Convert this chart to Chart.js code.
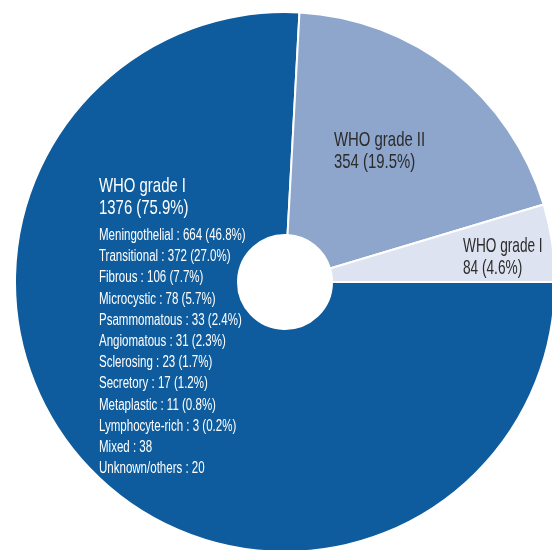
<!DOCTYPE html>
<html>
<head>
<meta charset="utf-8">
<script src="https://cdn.jsdelivr.net/npm/chart.js@4.4.1/dist/chart.umd.min.js"></script>
<style>
  html, body { margin: 0; padding: 0; background: #fff; overflow: hidden; width: 552px; height: 550px; }
  #wrap { position: absolute; left: 14px; top: 11px; width: 542px; height: 542px; }
</style>
</head>
<body>
<div id="wrap"><canvas id="gradePie"></canvas></div>
<script>
// WHO grade slices (the third label is cut off in the source figure)
const grades = ['WHO grade I', 'WHO grade II', 'WHO grade I'];
const cases = [1376, 354, 84];
const shares = ['75.9%', '19.5%', '4.6%'];

// grade I subtypes listed inside the big slice
const subtypes = ['Meningothelial', 'Transitional', 'Fibrous', 'Microcystic', 'Psammomatous',
  'Angiomatous', 'Sclerosing', 'Secretory', 'Metaplastic', 'Lymphocyte-rich', 'Mixed', 'Unknown/others'];
const subtypeCounts = [664, 372, 106, 78, 33, 31, 23, 17, 11, 3, 38, 20];
const subtypeShares = ['46.8%', '27.0%', '7.7%', '5.7%', '2.4%', '2.3%', '1.7%', '1.2%', '0.8%', '0.2%', null, null];

const colors = ['#0e5c9d', '#8ea5cc', '#dde3f0'];
const textColors = ['#ffffff', '#2b2b2b', '#2b2b2b'];
const FONT = '"Liberation Sans", Arial, sans-serif';

function condensedText(ctx, str, x, y, size, squeeze) {
  ctx.save();
  ctx.font = size + 'px ' + FONT;
  ctx.translate(x, y);
  ctx.scale(squeeze, 1);
  ctx.fillText(str, 0, 0);
  ctx.restore();
}

// label spots relative to the pie centre
const labelOffsets = [[-186, -90], [49, -136], [178, -30]];

const sliceLabels = {
  id: 'sliceLabels',
  beforeDatasetsDraw(chart) {
    // faint shadow around the hole
    const arc = chart.getDatasetMeta(0).data[0];
    const ctx = chart.ctx;
    ctx.save();
    ctx.beginPath();
    ctx.arc(arc.x, arc.y, arc.innerRadius + 1, 0, Math.PI * 2);
    ctx.fillStyle = '#fff';
    ctx.shadowColor = 'rgba(0,0,0,0.35)';
    ctx.shadowBlur = 8;
    ctx.shadowOffsetX = 2;
    ctx.shadowOffsetY = 2;
    ctx.fill();
    ctx.restore();
  },
  afterDatasetsDraw(chart) {
    const ctx = chart.ctx;
    const meta = chart.getDatasetMeta(0);
    const cx = meta.data[0].x, cy = meta.data[0].y;
    ctx.save();
    ctx.textBaseline = 'alphabetic';
    ctx.textAlign = 'left';
    ctx.beginPath();
    ctx.arc(cx, cy, meta.data[0].innerRadius - 1, 0, Math.PI * 2);
    ctx.fillStyle = '#fff';
    ctx.fill();

    grades.forEach((g, i) => {
      const [dx, dy] = labelOffsets[i];
      ctx.fillStyle = textColors[i];
      const sq = i === 2 ? 0.65 : 0.71;
      condensedText(ctx, g, cx + dx, cy + dy, 21, sq);
      condensedText(ctx, cases[i] + ' (' + shares[i] + ')', cx + dx, cy + dy + 22, 21, sq);
    });

    ctx.fillStyle = textColors[0];
    const [dx, dy] = labelOffsets[0];
    subtypes.forEach((s, i) => {
      let t = s + ' : ' + subtypeCounts[i];
      if (subtypeShares[i]) t += ' (' + subtypeShares[i] + ')';
      condensedText(ctx, t, cx + dx, cy + dy + 48 + i * 21.2, 16, 0.72);
    });
    ctx.restore();
  }
};

new Chart(document.getElementById('gradePie'), {
  type: 'doughnut',
  data: {
    labels: grades,
    datasets: [{
      data: cases,
      backgroundColor: colors,
      borderColor: '#ffffff',
      borderWidth: 2,
      hoverOffset: 0,
      offset: 0
    }]
  },
  options: {
    responsive: true,
    maintainAspectRatio: false,
    animation: false,
    rotation: 90,
    cutout: 47,
    layout: { padding: 0 },
    events: [],
    plugins: {
      legend: { display: false },
      tooltip: { enabled: false }
    }
  },
  plugins: [sliceLabels]
});
</script>
</body>
</html>
